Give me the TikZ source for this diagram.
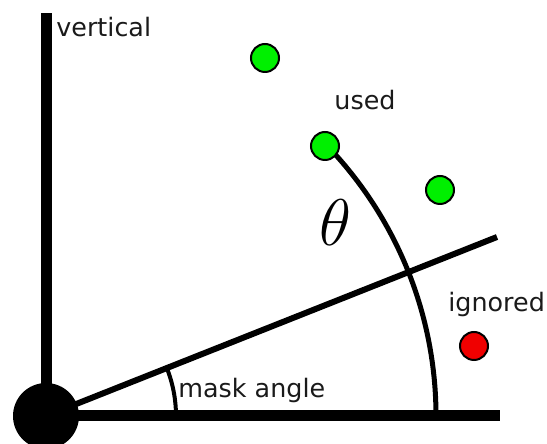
\RequirePackage{fix-cm}
\documentclass[tikz,border=0pt]{standalone}
\usepackage{fontspec}
\setmainfont{DejaVu Sans}
\usepackage{tikz}
\definecolor{MaskGreen}{HTML}{00F000}
\definecolor{MaskRed}{HTML}{F00000}
\definecolor{MaskText}{HTML}{1A1A1A}

\begin{document}
\begin{tikzpicture}[x=0.5pt,y=0.5pt,
  sat/.style={circle,draw=black,line width=1pt,minimum size=14pt,inner sep=0pt},
  lbl/.style={anchor=base west,inner sep=0pt,text=MaskText,font=\fontsize{12.7}{15}\selectfont}]
\path[use as bounding box] (0,0) rectangle (547,444);
% axes
\coordinate (vtop) at (46,431);
\coordinate (hend) at (500,28);
\coordinate (maskend) at (497,207);
\node[circle,fill=black,minimum size=33pt,inner sep=0pt] (origin) at (46,28) {};
\draw[line width=5.5pt] (origin.center) -- (vtop);
\draw[line width=5.5pt] (origin.center) -- (hend);
\draw[line width=3pt] (origin.center) -- (maskend);
% angles
\draw[line width=2pt] ([shift={(0:130)}]origin.center) arc[start angle=0,end angle=21.6,radius=130];
\draw[line width=2.5pt] ([shift={(0:390)}]origin.center) arc[start angle=0,end angle=44,radius=390];
% satellites
\node[sat,fill=MaskGreen] (sat1) at (265,386) {};
\node[sat,fill=MaskGreen] (sat2) at (325,298) {};
\node[sat,fill=MaskGreen] (sat3) at (440,254) {};
\node[sat,fill=MaskRed] (sat4) at (474,98) {};
% labels
\node[lbl] (vlabel) at (56,407) {vertical};
\node[lbl,anchor=center] (used) at (365,344) {used};
\node[inner sep=0pt] (theta) at (335,221) {\fontsize{33}{33}\selectfont$\theta$};
\node[lbl] (ignored) at (448,132) {ignored};
\node[lbl] (mask) at (178,46) {mask angle};
\end{tikzpicture}
\end{document}
